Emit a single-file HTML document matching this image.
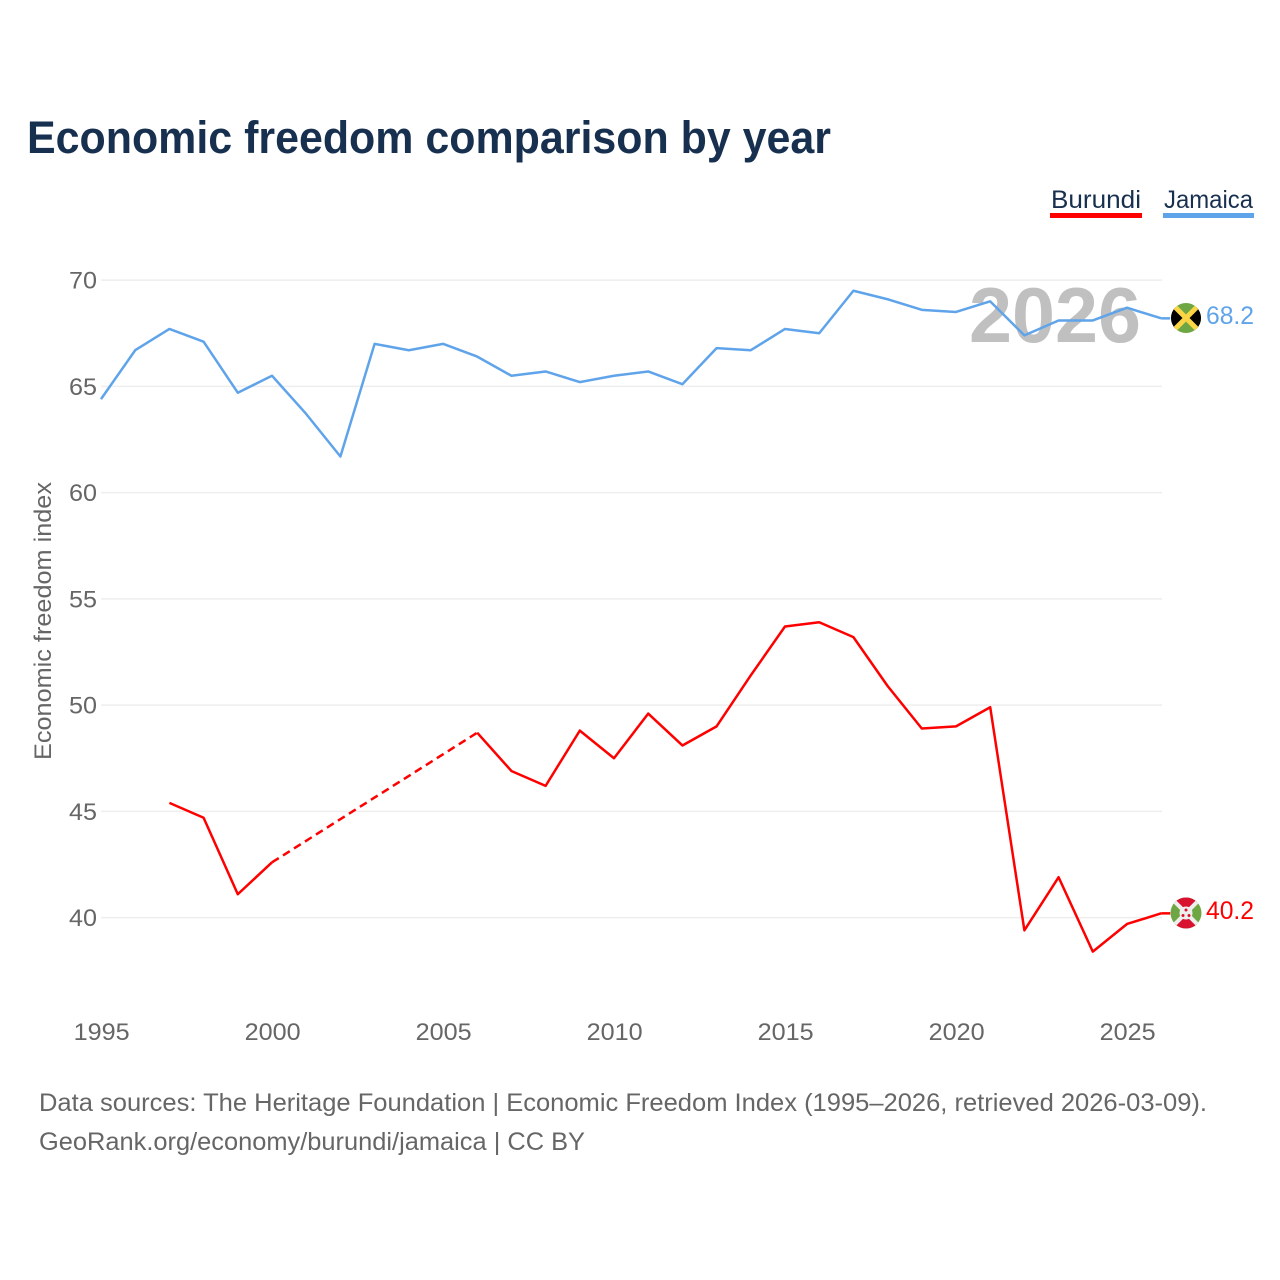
<!DOCTYPE html>
<html lang="en">
<head>
<meta charset="utf-8">
<title>Economic freedom comparison by year</title>
<style>
html,body{margin:0;padding:0;background:#fff;width:1280px;height:1280px;overflow:hidden}
svg{display:block}
text{font-family:"Liberation Sans",sans-serif}
</style>
</head>
<body>
<svg id="chart" xmlns="http://www.w3.org/2000/svg" width="1280" height="1280" viewBox="0 0 1280 1280">
  <defs>
    <clipPath id="flag-clip-jm"><circle cx="1186" cy="318" r="15"/></clipPath>
    <clipPath id="flag-clip-bi"><circle cx="1186" cy="913" r="15.5"/></clipPath>
  </defs>
  <rect width="1280" height="1280" fill="#fff"/>
  <text x="27" y="153" font-size="45" font-weight="700" fill="#18304f" textLength="804" lengthAdjust="spacingAndGlyphs">Economic freedom comparison by year</text>

  <g>
    <text x="1051" y="208" font-size="25" fill="#18304f" textLength="90" lengthAdjust="spacingAndGlyphs">Burundi</text>
    <rect x="1050" y="213" width="92" height="5" fill="#ff0000"/>
  </g>
  <g>
    <text x="1164" y="208" font-size="25" fill="#18304f" textLength="89" lengthAdjust="spacingAndGlyphs">Jamaica</text>
    <rect x="1163" y="213" width="91" height="5" fill="#5fa4ea"/>
  </g>

  <g id="grid"></g>
  <text x="969" y="342" font-size="78" font-weight="700" fill="#c0c0c0" textLength="172" lengthAdjust="spacingAndGlyphs">2026</text>
  <g id="y-ticks"></g>
  <g id="x-ticks"></g>
  <text transform="translate(51,760) rotate(-90)" x="0" y="0" font-size="24" fill="#666" textLength="278" lengthAdjust="spacingAndGlyphs">Economic freedom index</text>
  <g id="series"></g>

  <g clip-path="url(#flag-clip-jm)">
    <rect x="1171" y="303" width="30" height="30" fill="#6fa644"/>
    <polygon points="1171,303 1186,318 1171,333" fill="#000"/>
    <polygon points="1201,303 1186,318 1201,333" fill="#000"/>
    <path d="M1172 304 L1200 332 M1200 304 L1172 332" stroke="#fcd545" stroke-width="5"/>
  </g>
  <g clip-path="url(#flag-clip-bi)">
    <rect x="1170" y="897" width="32" height="32" fill="#6fa644"/>
    <polygon points="1170,897 1202,897 1186,913" fill="#d8112f"/>
    <polygon points="1170,929 1202,929 1186,913" fill="#d8112f"/>
    <path d="M1171 898 L1201 928 M1201 898 L1171 928" stroke="#eee" stroke-width="4"/>
    <circle cx="1186" cy="913" r="6.5" fill="#eee"/>
    <circle cx="1186" cy="910" r="1.5" fill="#d8112f"/>
    <circle cx="1183" cy="915.5" r="1.5" fill="#d8112f"/>
    <circle cx="1189" cy="915.5" r="1.5" fill="#d8112f"/>
  </g>

  <text id="label-jamaica" x="1206" y="324" font-size="25" fill="#5fa4ea" textLength="48" lengthAdjust="spacingAndGlyphs">68.2</text>
  <text id="label-burundi" x="1206" y="919" font-size="25" fill="#ff0000" textLength="48" lengthAdjust="spacingAndGlyphs">40.2</text>

  <text x="39" y="1111" font-size="25" fill="#666" textLength="1168" lengthAdjust="spacingAndGlyphs">Data sources: The Heritage Foundation | Economic Freedom Index (1995–2026, retrieved 2026-03-09).</text>
  <text x="39" y="1150" font-size="25" fill="#666" textLength="546" lengthAdjust="spacingAndGlyphs">GeoRank.org/economy/burundi/jamaica | CC BY</text>
</svg>
<script>
const years = [1995,1996,1997,1998,1999,2000,2001,2002,2003,2004,2005,2006,2007,2008,2009,2010,2011,2012,2013,2014,2015,2016,2017,2018,2019,2020,2021,2022,2023,2024,2025,2026];
const jamaicaValues = [64.4,66.7,67.7,67.1,64.7,65.5,63.7,61.7,67.0,66.7,67.0,66.4,65.5,65.7,65.2,65.5,65.7,65.1,66.8,66.7,67.7,67.5,69.5,69.1,68.6,68.5,69.0,67.4,68.1,68.1,68.7,68.2];
const burundiValues = [null,null,45.4,44.7,41.1,42.6,null,null,null,null,null,48.7,46.9,46.2,48.8,47.5,49.6,48.1,49.0,51.4,53.7,53.9,53.2,50.9,48.9,49.0,49.9,39.4,41.9,38.4,39.7,40.2];
const yTickValues = [40,45,50,55,60,65,70];
const xTickValues = [1995,2000,2005,2010,2015,2020,2025];

const NS = 'http://www.w3.org/2000/svg';
function xScale(year){ return 101 + (year - 1995) * 34.2; }
function yScale(value){ return 917.6 - (value - 40) * 21.25; }
function make(tag, parent){
  const el = document.createElementNS(NS, tag);
  parent.appendChild(el);
  return el;
}

const gridGroup = document.getElementById('grid');
const yTickGroup = document.getElementById('y-ticks');
const xTickGroup = document.getElementById('x-ticks');
const seriesGroup = document.getElementById('series');

yTickValues.forEach(function(v){
  const line = make('line', gridGroup);
  
  
  line.setAttribute('x1', 101);
  line.setAttribute('x2', 1162);
  line.setAttribute('y1', yScale(v));
  line.setAttribute('y2', yScale(v));
  line.setAttribute('stroke', '#eeeeee');
  line.setAttribute('stroke-width', 1.5);

  const label = make('text', yTickGroup);
  
  
  label.setAttribute('x', 97);
  label.setAttribute('y', yScale(v) + 8.4);
  label.setAttribute('text-anchor', 'end');
  label.setAttribute('font-size', 24);
  label.setAttribute('fill', '#666');
  label.setAttribute('textLength', 28);
  label.setAttribute('lengthAdjust', 'spacingAndGlyphs');
  label.textContent = String(v);
});

xTickValues.forEach(function(y){
  const label = make('text', xTickGroup);
  
  
  label.setAttribute('x', xScale(y) + 0.6);
  label.setAttribute('y', 1040);
  label.setAttribute('text-anchor', 'middle');
  label.setAttribute('font-size', 24);
  label.setAttribute('fill', '#666');
  label.setAttribute('textLength', 56);
  label.setAttribute('lengthAdjust', 'spacingAndGlyphs');
  label.textContent = String(y);
});

function drawPath(points, color, dashed, name){
  const path = make('path', seriesGroup);
  
  
  path.setAttribute('d', points.map(function(p, i){ return (i ? 'L' : 'M') + p[0] + ' ' + p[1]; }).join(' '));
  path.setAttribute('fill', 'none');
  path.setAttribute('stroke', color);
  path.setAttribute('stroke-width', 2.5);
  path.setAttribute('stroke-linejoin', 'round');
  if (dashed) path.setAttribute('stroke-dasharray', '8 5');
}

function drawSeries(values, color, key){
  let run = [];
  let last = null;
  values.forEach(function(v, i){
    if (v === null) {
      if (run.length) drawPath(run, color, false, 'line-' + key);
      run = [];
      return;
    }
    const pt = [xScale(years[i]), yScale(v)];
    if (!run.length && last) drawPath([last, pt], color, true, 'gap-line-' + key);
    run.push(pt);
    last = pt;
  });
  if (run.length) drawPath(run, color, false, 'line-' + key);
  drawPath([last, [last[0] + 9, last[1]]], color, false, 'flag-connector-' + key);
}

drawSeries(jamaicaValues, '#5fa4ea', 'jamaica');
drawSeries(burundiValues, '#ff0000', 'burundi');

document.getElementById('label-jamaica').textContent = jamaicaValues[jamaicaValues.length - 1].toFixed(1);
document.getElementById('label-burundi').textContent = burundiValues[burundiValues.length - 1].toFixed(1);
</script>
</body>
</html>
